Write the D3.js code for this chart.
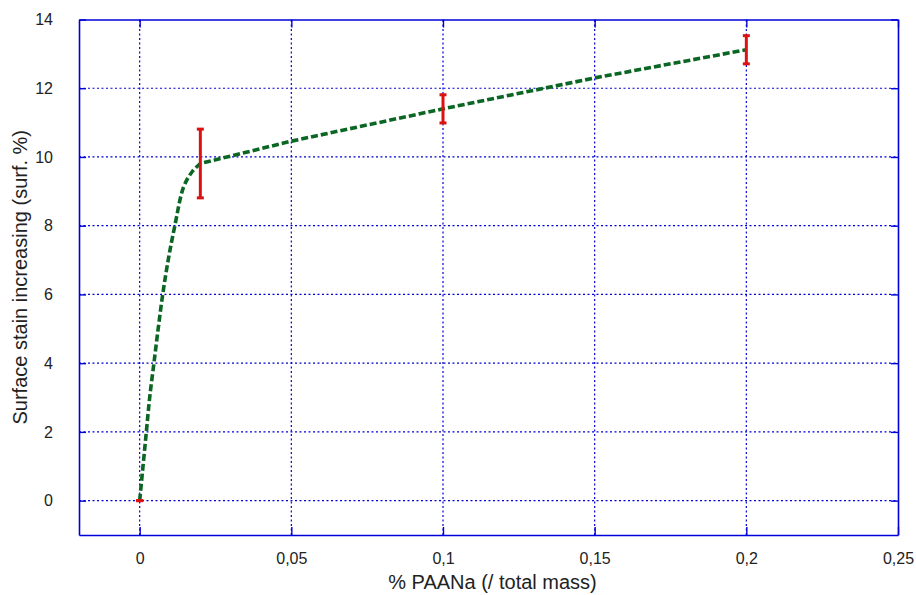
<!DOCTYPE html>
<html>
<head>
<meta charset="utf-8">
<script src="https://cdn.jsdelivr.net/npm/d3@7"></script>
<style>
html,body{margin:0;padding:0;background:#fff;}
svg{display:block;font-family:"Liberation Sans",Arial,sans-serif;}
</style>
</head>
<body>
<svg id="chart" width="916" height="595"></svg>
<script>
// Measured points with error bars
const pointX = [0, 0.02, 0.1, 0.2];
const pointY = [0, 9.81, 11.4, 13.12];
const pointErr = [0, 1.0, 0.41, 0.41];

// Fitted curve (steep part, then near-linear part)
const curveX = [0, 0.0011, 0.0022, 0.0033, 0.0047, 0.0061, 0.0076, 0.0094, 0.0116, 0.0145, 0.0173, 0.02];
const curveY = [0, 1, 2, 3, 4, 5, 6, 7, 8, 9.13, 9.57, 9.81];
const lineX = [0.02, 0.05, 0.1, 0.15, 0.2];
const lineY = [9.81, 10.46, 11.4, 12.3, 13.12];

const xTicks = [0, 0.05, 0.1, 0.15, 0.2, 0.25];
const xTickLabels = ["0", "0,05", "0,1", "0,15", "0,2", "0,25"];
const yTicks = [0, 2, 4, 6, 8, 10, 12, 14];
const yTickLabels = ["0", "2", "4", "6", "8", "10", "12", "14"];

const xTitle = "% PAANa (/ total mass)";
const yTitle = "Surface stain increasing (surf. %)";

const W = 916, H = 595;
const margin = {left: 79, top: 19.5, right: 916 - 898, bottom: 595 - 535};
const svg = d3.select("#chart");

const x = d3.scaleLinear().domain([-0.02, 0.25]).range([margin.left, W - margin.right]);
const y = d3.scaleLinear().domain([-1, 14]).range([H - margin.bottom, margin.top]);

const blue = "#0000d8";
const gridG = svg.append("g");
gridG.selectAll(".vg").data(xTicks.filter(t => t < 0.25)).enter().append("line")
  .attr("x1", d => x(d)).attr("x2", d => x(d))
  .attr("y1", y(-1)).attr("y2", y(14))
  .attr("stroke", blue).attr("stroke-width", 1.2).attr("stroke-dasharray", "2,2.5");
gridG.selectAll(".hg").data(yTicks.filter(t => t < 14)).enter().append("line")
  .attr("x1", x(-0.02)).attr("x2", x(0.25))
  .attr("y1", d => y(d)).attr("y2", d => y(d))
  .attr("stroke", blue).attr("stroke-width", 1.2).attr("stroke-dasharray", "2,2.5");

const fmtX = d => xTickLabels[xTicks.indexOf(d)];
const fmtY = d => yTickLabels[yTicks.indexOf(d)];
const axB = svg.append("g").attr("transform", `translate(0,${y(-1)})`)
  .call(d3.axisBottom(x).tickValues(xTicks).tickFormat(fmtX).tickSizeInner(-8).tickSizeOuter(0).tickPadding(18));
const axT = svg.append("g").attr("transform", `translate(0,${y(14)})`)
  .call(d3.axisTop(x).tickValues(xTicks).tickFormat("").tickSizeInner(-8).tickSizeOuter(0));
const axL = svg.append("g").attr("transform", `translate(${x(-0.02)},0)`)
  .call(d3.axisLeft(y).tickValues(yTicks).tickFormat(fmtY).tickSizeInner(-7).tickSizeOuter(0).tickPadding(26));
const axR = svg.append("g").attr("transform", `translate(${x(0.25)},0)`)
  .call(d3.axisRight(y).tickValues(yTicks).tickFormat("").tickSizeInner(-7).tickSizeOuter(0));
[axB, axT, axL, axR].forEach(a => {
  a.selectAll("path.domain").attr("stroke", blue).attr("stroke-width", 1.6);
  a.selectAll(".tick line").attr("stroke", blue).attr("stroke-width", 1.4);
  a.selectAll(".tick text").attr("fill", "#222").attr("font-size", 16)
    .attr("font-family", "Liberation Sans, Arial, sans-serif");
});
axB.selectAll(".tick text").attr("dy", "0.71em");

// fitted curve: smooth steep part + straight part
const curveData = curveX.map((v, i) => [v, curveY[i]]);
const lineData = lineX.map((v, i) => [v, lineY[i]]);
const smooth = d3.line().x(d => x(d[0])).y(d => y(d[1])).curve(d3.curveCatmullRom.alpha(0.5));
const straight = d3.line().x(d => x(d[0])).y(d => y(d[1])).curve(d3.curveLinear);
const dStr = smooth(curveData) + straight(lineData).replace(/^M/, "L");
svg.append("path").attr("d", dStr)
  .attr("fill", "none").attr("stroke", "#0b6623").attr("stroke-width", 3.6)
  .attr("stroke-dasharray", "7,3");

// error bars
const pts = pointX.map((v, i) => ({x: v, y: pointY[i], e: pointErr[i]}));
const eb = svg.append("g").attr("stroke", "#dd1111").attr("stroke-width", 3);
eb.selectAll(".v").data(pts.filter(p => p.e > 0)).enter().append("line")
  .attr("x1", d => x(d.x)).attr("x2", d => x(d.x))
  .attr("y1", d => y(d.y - d.e)).attr("y2", d => y(d.y + d.e));
eb.selectAll(".ct").data(pts).enter().append("line")
  .attr("x1", d => x(d.x) - 3.5).attr("x2", d => x(d.x) + 3.5)
  .attr("y1", d => y(d.y + d.e)).attr("y2", d => y(d.y + d.e));
eb.selectAll(".cb").data(pts).enter().append("line")
  .attr("x1", d => x(d.x) - 3.5).attr("x2", d => x(d.x) + 3.5)
  .attr("y1", d => y(d.y - d.e)).attr("y2", d => y(d.y - d.e));

// titles
svg.append("text").attr("x", (x(-0.02) + x(0.25)) / 2 + 4).attr("y", 589)
  .attr("text-anchor", "middle").attr("font-size", 20).attr("fill", "#222").text(xTitle);
svg.append("text").attr("transform", `translate(27,${(y(-1) + y(14)) / 2}) rotate(-90)`)
  .attr("text-anchor", "middle").attr("font-size", 20).attr("fill", "#222").text(yTitle);
</script>
</body>
</html>
